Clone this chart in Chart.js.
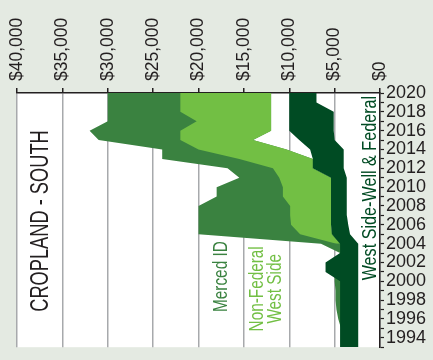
<!DOCTYPE html>
<html><head><meta charset="utf-8">
<script src="https://cdn.jsdelivr.net/npm/chart.js@4.4.1/dist/chart.umd.min.js"></script>
<style>
html,body{margin:0;padding:0;background:#e4eae2;}
#wrap{width:433px;height:360px;position:relative;}
</style></head><body>
<div id="wrap"><canvas id="c" width="433" height="360"></canvas></div>
<script>
// ---- data ----
const years = [2020,2019,2018,2017,2016,2015,2014,2013,2012,2011,2010,2009,2008,2007,2006,2005,2004,2003,2002,2001,2000,1999,1998,1997,1996,1995,1994,1993];
const seriesNames = ['West Side-Well & Federal','Non-Federal West Side','Merced ID'];
const xTickValues = [0,5000,10000,15000,20000,25000,30000,35000,40000];

// West Side-Well & Federal : low / high of range ($/acre)
const wellFedLow  = [7000,7000,5100,5100,5100,5000,4000,4000,4000,3700,3650,3650,3650,3650,3500,3300,2400,2400,2400,2400,2400,2400,2400,2400,2400,2400,2400,2400];
const wellFedHigh = [10000,10000,10000,10000,10000,8900,7700,7400,7400,5400,5400,5400,5400,5400,5400,5300,4400,4400,6000,6000,4400,4400,4400,4400,4400,4400,4400,4400];
// Non-Federal West Side
const nonFedLow   = [12000,12000,12000,12000,12000,14000,10300,7400,7400,5400,5400,5400,5400,5400,5400,5300,4400,null,null,null,null,null,null,null,null,null,null,null];
const nonFedHigh  = [22000,22000,22000,20200,22000,22000,20000,15500,11800,11100,10700,10700,9900,9900,9800,8800,4800,null,null,null,null,null,null,null,null,null,null,null];
// Merced ID
const mercedLow   = [12000,12000,12000,12000,12000,14000,10300,7400,7400,5400,5400,5400,5400,5400,5400,5300,4400,4300,4300,4300,4300,4300,4300,4300,4300,4300,4300,4300];
const mercedHigh  = [30000,30000,30000,30000,32000,31000,24000,24000,16800,15500,18000,18000,20000,20000,20000,20000,6500,4400,5000,5000,5000,4900,4900,4800,4600,4300,4300,4300];

const colors = {dark:'#004b23', light:'#72bf44', mid:'#3a8240', text:'#231f20', grid:'#a7a9ac'};
const FONT = "'Liberation Sans',Arial,sans-serif";

const pts = arr => years.map((yr,i) => ({x: arr[i], y: yr}));
const band = (arr, fill, color) => ({
  data: pts(arr), fill: fill, backgroundColor: color || 'transparent',
  borderColor: 'transparent', borderWidth: 0, pointRadius: 0, tension: 0, spanGaps: false
});

// free text, condensed horizontally (sx) to imitate the narrow face of the original
const textLabels = [
  {lines:['CROPLAND - SOUTH'], value:37350, year:2006.4, color:colors.text, size:25, sx:0.73},
  {lines:[seriesNames[2]], value:17500, year:2000.5, color:colors.mid, size:21, sx:0.73},
  {lines:['Non-Federal','West Side'], value:12550, year:1999.2, color:colors.light, size:21, sx:0.73, lh:18.5},
  {lines:[seriesNames[0]], value:1100, year:2009.9, color:colors.dark, size:21, sx:0.77}
];

const bgPlugin = {
  id:'bg',
  beforeDraw(chart){
    const {ctx, chartArea:a} = chart;
    ctx.save(); ctx.fillStyle = '#ffffff';
    ctx.fillRect(a.left, a.top, a.right-a.left, a.bottom-a.top);
    ctx.restore();
  }
};
const labelPlugin = {
  id:'txt',
  afterDatasetsDraw(chart){
    const {ctx, scales:{x, y}} = chart;
    textLabels.forEach(l => {
      ctx.save();
      ctx.translate(x.getPixelForValue(l.value), y.getPixelForValue(l.year));
      ctx.rotate(-Math.PI/2);
      ctx.scale(l.sx, 1);
      ctx.fillStyle = l.color;
      ctx.font = l.size + 'px ' + FONT;
      ctx.textAlign = 'center'; ctx.textBaseline = 'middle';
      const lh = l.lh || l.size;
      l.lines.forEach((t,i) => ctx.fillText(t, 0, (i - (l.lines.length-1)/2) * lh));
      ctx.restore();
    });
  }
};

new Chart(document.getElementById('c'), {
  type:'line',
  data:{ datasets:[
    band(wellFedLow, false),
    band(wellFedHigh, '-1', colors.dark),
    band(nonFedLow, false),
    band(nonFedHigh, '-1', colors.light),
    band(mercedLow, false),
    band(mercedHigh, '-1', colors.mid)
  ]},
  options:{
    indexAxis:'y', responsive:false, animation:false,
    layout:{padding:{left:17, top:0, right:0, bottom:5}},
    plugins:{legend:{display:false}, tooltip:{enabled:false}},
    scales:{
      x:{
        type:'linear', position:'top', reverse:true, min:0, max:40000,
        afterFit(s){ s.height = 93; },
        afterBuildTicks(s){ s.ticks = xTickValues.map(v => ({value:v})); },
        grid:{color:colors.grid, lineWidth:1.5, tickColor:colors.text, tickLength:5, tickWidth:1.5},
        border:{display:true, color:colors.text, width:1.5},
        ticks:{autoSkip:false, minRotation:90, maxRotation:90, padding:7, color:colors.text,
          font:{family:FONT, size:17.5, lineHeight:'0px'},
          callback:v => '$' + Number(v).toLocaleString('en-US')}
      },
      y:{
        type:'linear', position:'right', min:1993, max:2020,
        afterFit(s){ s.width = 53; },
        grid:{drawOnChartArea:false, tickColor:colors.text, tickLength:4, tickWidth:1.2},
        border:{display:true, color:colors.text, width:1.5},
        ticks:{autoSkip:false, stepSize:1, maxTicksLimit:100, padding:2, color:colors.text,
          font:{family:FONT, size:18},
          callback:v => (v % 2 === 0 ? String(v) : '')}
      }
    }
  },
  plugins:[bgPlugin, labelPlugin]
});
</script>
</body></html>
